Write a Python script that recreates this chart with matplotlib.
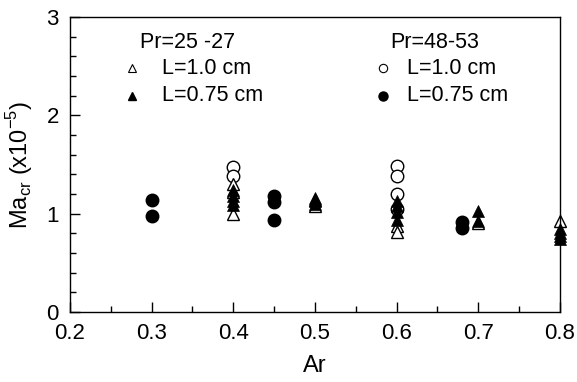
import numpy as np
import matplotlib.pyplot as plt
from matplotlib.ticker import MultipleLocator

plt.rcParams['font.family'] = ['Liberation Sans', 'DejaVu Sans']
plt.rcParams['mathtext.fontset'] = 'custom'
plt.rcParams['mathtext.rm'] = 'Liberation Sans'

# Pr=25-27, L=1.0 cm (open triangles)
ar_tri_open = [0.4, 0.4, 0.4, 0.5, 0.5, 0.6, 0.6, 0.7, 0.8]
ma_tri_open = [1.00, 1.22, 1.30, 1.08, 1.14, 0.87, 0.81, 0.91, 0.93]
# Pr=25-27, L=0.75 cm (filled triangles)
ar_tri_fill = [0.4, 0.4, 0.4, 0.4, 0.5, 0.5, 0.5, 0.6, 0.6, 0.6, 0.6,
               0.7, 0.7, 0.8, 0.8, 0.8, 0.8]
ma_tri_fill = [1.24, 1.18, 1.13, 1.09, 1.16, 1.13, 1.10, 1.13, 1.08, 1.02, 0.94,
               1.03, 0.93, 0.84, 0.80, 0.77, 0.74]
# Pr=48-53, L=1.0 cm (open circles)
ar_circ_open = [0.4, 0.4, 0.6, 0.6, 0.6, 0.6]
ma_circ_open = [1.47, 1.38, 1.48, 1.38, 1.20, 1.05]
# Pr=48-53, L=0.75 cm (filled circles)
ar_circ_fill = [0.3, 0.3, 0.45, 0.45, 0.45, 0.68, 0.68]
ma_circ_fill = [1.14, 0.98, 1.18, 1.12, 0.94, 0.92, 0.85]

fig = plt.figure(figsize=(5.77, 3.82), dpi=100)
ax = fig.add_axes([0.1213, 0.1832, 0.8492, 0.7723])

ms = 9
ax.plot(ar_circ_open, ma_circ_open, 'o', ms=ms, mfc='white', mec='black', mew=1.0, ls='none', clip_on=False)
ax.plot(ar_tri_open, ma_tri_open, '^', ms=ms, mfc='white', mec='black', mew=1.0, ls='none', clip_on=False)
ax.plot(ar_tri_fill, ma_tri_fill, '^', ms=ms, mfc='black', mec='black', mew=0.5, ls='none', clip_on=False)
ax.plot(ar_circ_fill, ma_circ_fill, 'o', ms=ms, mfc='black', mec='black', ls='none', clip_on=False)

ax.set_xlim(0.2, 0.8)
ax.set_ylim(0, 3)
ax.xaxis.set_major_locator(MultipleLocator(0.1))
ax.xaxis.set_minor_locator(MultipleLocator(0.05))
ax.yaxis.set_major_locator(MultipleLocator(1))
ax.yaxis.set_minor_locator(MultipleLocator(0.2))
ax.tick_params(which='both', direction='in', labelsize=16, width=1.0)
ax.tick_params(which='major', length=7, pad=8)
ax.tick_params(which='minor', length=4)
ax.xaxis.set_major_formatter(plt.FuncFormatter(lambda v, p: f'{v:.1f}'))
ax.yaxis.set_major_formatter(plt.FuncFormatter(lambda v, p: f'{v:.0f}'))
for s in ax.spines.values():
    s.set_linewidth(1.0)

ax.set_xlabel('Ar', fontsize=17, labelpad=8)
ax.set_ylabel(r'Ma$_{\mathregular{cr}}$ (x10$^{\mathregular{-5}}$)', fontsize=17, labelpad=8)

# key, two groups
tr = ax.transAxes
fs = 15.5
ax.text(0.143, 0.912, 'Pr=25 -27', transform=tr, fontsize=fs, va='center')
ax.plot([0.126], [0.826], '^', ms=6, mfc='white', mec='black', mew=0.8, transform=tr)
ax.plot([0.126], [0.733], '^', ms=6, mfc='black', mec='black', transform=tr)
ax.text(0.187, 0.826, 'L=1.0 cm', transform=tr, fontsize=fs, va='center')
ax.text(0.187, 0.733, 'L=0.75 cm', transform=tr, fontsize=fs, va='center')

ax.text(0.653, 0.912, 'Pr=48-53', transform=tr, fontsize=fs, va='center')
ax.plot([0.639], [0.826], 'o', ms=6, mfc='white', mec='black', mew=0.8, transform=tr)
ax.plot([0.639], [0.733], 'o', ms=6.5, mfc='black', mec='black', transform=tr)
ax.text(0.687, 0.826, 'L=1.0 cm', transform=tr, fontsize=fs, va='center')
ax.text(0.687, 0.733, 'L=0.75 cm', transform=tr, fontsize=fs, va='center')

fig.savefig('out.png', dpi=100)
